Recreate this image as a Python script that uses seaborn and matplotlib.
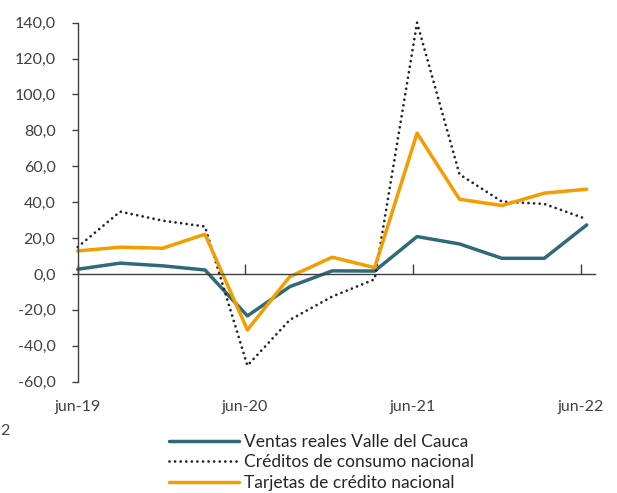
import numpy as np
import pandas as pd
import matplotlib
matplotlib.use("Agg")
import matplotlib.pyplot as plt
import matplotlib.transforms as mtransforms
import seaborn as sns

# datos trimestrales jun-19 .. jun-22 (variación anual, %)
periodos = list(range(13))
ventas = [2.6, 6.0, 4.5, 2.2, -23.4, -7.1, 1.7, 1.6, 20.8, 16.7, 8.7, 8.7, 27.3]
creditos = [15.0, 34.7, 29.7, 26.4, -51.1, -25.6, -12.6, -3.0, 140.0, 55.5, 40.3, 39.0, 30.5]
tarjetas = [12.8, 14.9, 14.3, 22.1, -31.2, -1.5, 9.3, 3.5, 78.4, 41.6, 38.1, 45.0, 47.2]

etiquetas_x = ["jun-19", "jun-20", "jun-21", "jun-22"]
pos_x = [0, 3.94, 7.9, 11.86]
ticks_y = [-60, -40, -20, 0, 20, 40, 60, 80, 100, 120, 140]

nombres = ["Ventas reales Valle del Cauca",
           "Créditos de consumo nacional",
           "Tarjetas de crédito nacional"]
colores = ["#2E6A78", "#262626", "#F59C00"]

df = pd.DataFrame({"t": periodos, nombres[0]: ventas,
                   nombres[1]: creditos, nombres[2]: tarjetas})

sns.set_theme(style="white")
plt.rcParams["font.family"] = ["Lato", "DejaVu Sans"]

fig = plt.figure(figsize=(6.17, 4.93), dpi=100)
ax = fig.add_axes([0.126, 0.226, 0.838, 0.728])

sns.lineplot(data=df, x="t", y=nombres[0], ax=ax, color=colores[0],
             linewidth=2.5, label=nombres[0], clip_on=False)
sns.lineplot(data=df, x="t", y=nombres[1], ax=ax, color=colores[1],
             linewidth=2.0, linestyle=(0, (0.01, 2.0)), dash_capstyle="round",
             label=nombres[1], clip_on=False)
sns.lineplot(data=df, x="t", y=nombres[2], ax=ax, color=colores[2],
             linewidth=2.5, label=nombres[2], clip_on=False)

ax.set_xlim(0, 12.19)
ax.set_ylim(-60, 140)
ax.set_xlabel("")
ax.set_ylabel("")

ax.spines["top"].set_visible(False)
ax.spines["right"].set_visible(False)
ax.spines["bottom"].set_position(("data", 0))
for s in ["left", "bottom"]:
    ax.spines[s].set_color("#404040")
    ax.spines[s].set_linewidth(1.0)

ax.set_yticks(ticks_y)
ax.set_yticklabels([f"{v:.1f}".replace(".", ",") for v in ticks_y])
ax.tick_params(axis="y", direction="out", length=4, width=1, color="#404040",
               labelsize=11.5, labelcolor="#404040", pad=12, left=True)
ax.set_xticks(pos_x)
ax.tick_params(axis="x", direction="in", length=7, width=1, color="#404040",
               labelbottom=False, bottom=True)

trans = mtransforms.blended_transform_factory(ax.transData, ax.transAxes)
for p, lab in zip(pos_x, etiquetas_x):
    ax.text(p, -0.07, lab, transform=trans, ha="center", va="center",
            fontsize=11.5, color="#404040")

ax.get_legend().remove()
handles, labels = ax.get_legend_handles_labels()
fig.legend(handles, labels, loc="upper left", bbox_to_anchor=(0.274, 0.12),
           frameon=False, fontsize=12.5, handlelength=4.0, handletextpad=0.3,
           borderpad=0, borderaxespad=0, labelspacing=0.26,
           labelcolor="#262626")

fig.text(0.0, 0.125, "2", fontsize=11.5, color="#404040", ha="left", va="center")

fig.savefig("out.png", dpi=100)
